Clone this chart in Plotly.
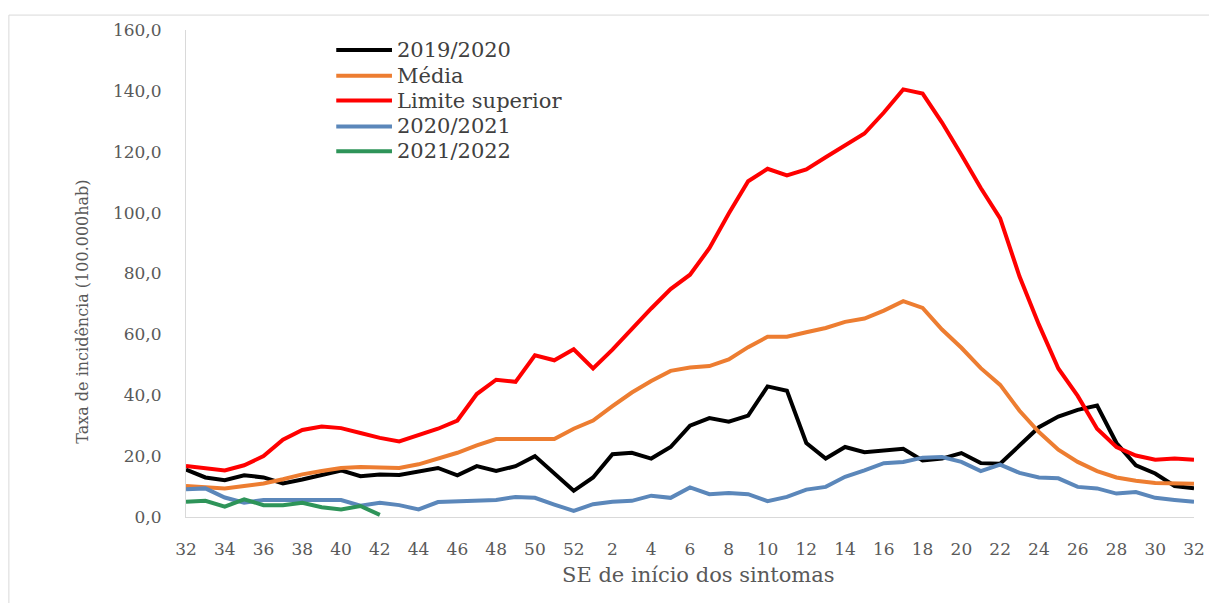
import plotly.graph_objects as go

# semanas epidemiológicas (SE 32 até SE 32 do ano seguinte)
semanas = list(range(32, 53)) + list(range(1, 33))

s2019_2020 = [
    15.6, 13.0, 12.1, 13.7, 13.0, 11.0, 12.3, 13.9, 15.3, 13.4, 14.0,
    13.8, 14.8, 16.1, 13.7, 16.7, 15.1, 16.7, 20.0, 14.3, 8.6,
    13.0, 20.6, 21.1, 19.2, 23.0, 30.0, 32.5, 31.3, 33.3, 42.9, 41.5,
    24.3, 19.2, 23.0, 21.3, 21.9, 22.4, 18.6, 19.2, 21.0, 17.7, 17.5,
    23.5, 29.5, 33.0, 35.2, 36.6, 24.3, 17.0, 14.3, 10.2, 9.4,
]
media = [
    10.2, 9.9, 9.4, 10.2, 11.0, 12.4, 14.0, 15.1, 16.1, 16.4, 16.1,
    16.1, 17.3, 19.2, 21.1, 23.5, 25.6, 25.6, 25.6, 25.6, 29.0,
    31.7, 36.4, 40.9, 44.7, 48.0, 49.1, 49.6, 51.8, 55.8, 59.2, 59.2,
    60.7, 62.1, 64.1, 65.2, 67.8, 70.9, 68.7, 61.6, 55.6, 48.9, 43.4,
    34.9, 27.9, 22.1, 18.1, 15.1, 13.0, 11.9, 11.2, 11.0, 10.9,
]
limite_superior = [
    16.8, 16.1, 15.3, 17.0, 20.0, 25.4, 28.6, 29.7, 29.2, 27.6, 26.0,
    24.8, 27.0, 29.0, 31.7, 40.4, 45.1, 44.4, 53.1, 51.5, 55.1,
    48.8, 55.0, 61.8, 68.5, 74.9, 79.6, 88.3, 99.7, 110.3, 114.4, 112.2,
    114.2, 118.2, 122.2, 126.0, 132.9, 140.5, 139.1, 129.6, 119.0, 108.1, 98.1,
    79.0, 63.2, 48.8, 39.8, 29.0, 23.0, 20.2, 18.8, 19.2, 18.8,
]
s2020_2021 = [
    9.1, 9.4, 6.4, 4.7, 5.6, 5.6, 5.3, 5.6, 5.6, 3.7, 4.7,
    3.9, 2.5, 4.9, 5.2, 5.6, 5.6, 6.6, 6.3, 4.1, 2.0,
    4.2, 5.0, 5.3, 7.0, 6.3, 9.7, 7.5, 7.9, 7.5, 5.2, 6.6,
    9.0, 9.9, 13.2, 15.3, 17.7, 18.1, 19.5, 19.7, 18.1, 15.1, 17.2,
    14.5, 13.0, 12.7, 9.9, 9.4, 7.7, 8.2, 6.3, 5.6, 5.0,
]
s2021_2022 = [5.0, 5.3, 3.4, 5.8, 3.9, 3.9, 4.7, 3.2, 2.5, 3.6, 0.7]

series = [
    ("2019/2020", s2019_2020, "#000000"),
    ("Média", media, "#ED7D31"),
    ("Limite superior", limite_superior, "#FF0000"),
    ("2020/2021", s2020_2021, "#5B87BA"),
    ("2021/2022", s2021_2022, "#2E9459"),
]

FONT = "DejaVu Serif"
GRAY = "#595959"

# área de plotagem na página (px); o corpo da página tem margem de 8px
PL, PR, PT, PB = 186, 1199, 27, 517


def px_x(x):
    return (x - PL) / (PR - PL)


def px_y(y):
    return (PB - y) / (PB - PT)


x_idx = list(range(len(semanas)))

fig = go.Figure()
for nome, valores, cor in series:
    fig.add_trace(
        go.Scatter(
            x=x_idx[: len(valores)],
            y=valores,
            mode="lines",
            name=nome,
            line=dict(color=cor, width=4),
            showlegend=False,
        )
    )

fig.update_layout(
    width=1209,
    height=595,
    margin=dict(l=PL - 8, r=1209 + 8 - PR, t=PT - 8, b=595 + 8 - PB),
    paper_bgcolor="white",
    plot_bgcolor="white",
    font=dict(family=FONT, color=GRAY, size=17),
    xaxis=dict(
        range=[0, 52],
        tickvals=x_idx[::2],
        ticktext=[str(s) for s in semanas[::2]],
        showgrid=False,
        zeroline=False,
        showline=True,
        linecolor="#D9D9D9",
        linewidth=1,
        ticks="",
        ticklabelstandoff=17,
        tickfont=dict(size=17, color=GRAY),
    ),
    yaxis=dict(
        range=[0, 160],
        tickvals=list(range(0, 161, 20)),
        ticktext=[f"{v},0" for v in range(0, 161, 20)],
        showgrid=False,
        zeroline=False,
        showline=True,
        linecolor="#D9D9D9",
        linewidth=1,
        ticks="",
        ticklabelstandoff=20,
        tickfont=dict(size=17, color=GRAY),
    ),
)

# títulos dos eixos
fig.add_annotation(
    text="SE de início dos sintomas", xref="paper", yref="paper",
    x=px_x(701), y=px_y(575), xanchor="center", yanchor="middle",
    showarrow=False, font=dict(size=21, color=GRAY),
)
fig.add_annotation(
    text="Taxa de incidência (100.000hab)", xref="paper", yref="paper",
    x=px_x(82), y=px_y(311), xanchor="center", yanchor="middle",
    textangle=-90, showarrow=False, font=dict(size=16, color=GRAY),
)

# legenda
legenda_y = [47, 73, 98, 124, 149]
for (nome, _, cor), ly in zip(series, legenda_y):
    fig.add_shape(type="line", xref="paper", yref="paper",
                  x0=px_x(337), x1=px_x(393), y0=px_y(ly), y1=px_y(ly),
                  line=dict(color=cor, width=4))
    fig.add_annotation(
        text=nome, xref="paper", yref="paper",
        x=px_x(396), y=px_y(ly), xanchor="left", yanchor="middle",
        showarrow=False, font=dict(size=21, color="#404040"),
    )

# moldura da área do gráfico (bordas esquerda e superior visíveis)
fig.add_shape(type="line", xref="paper", yref="paper",
              x0=px_x(8), x1=1.05, y0=px_y(12), y1=px_y(12),
              line=dict(color="#D9D9D9", width=1))
fig.add_shape(type="line", xref="paper", yref="paper",
              x0=px_x(8), x1=px_x(8), y0=-0.2, y1=px_y(12),
              line=dict(color="#D9D9D9", width=1))

fig.write_html("out.html")
